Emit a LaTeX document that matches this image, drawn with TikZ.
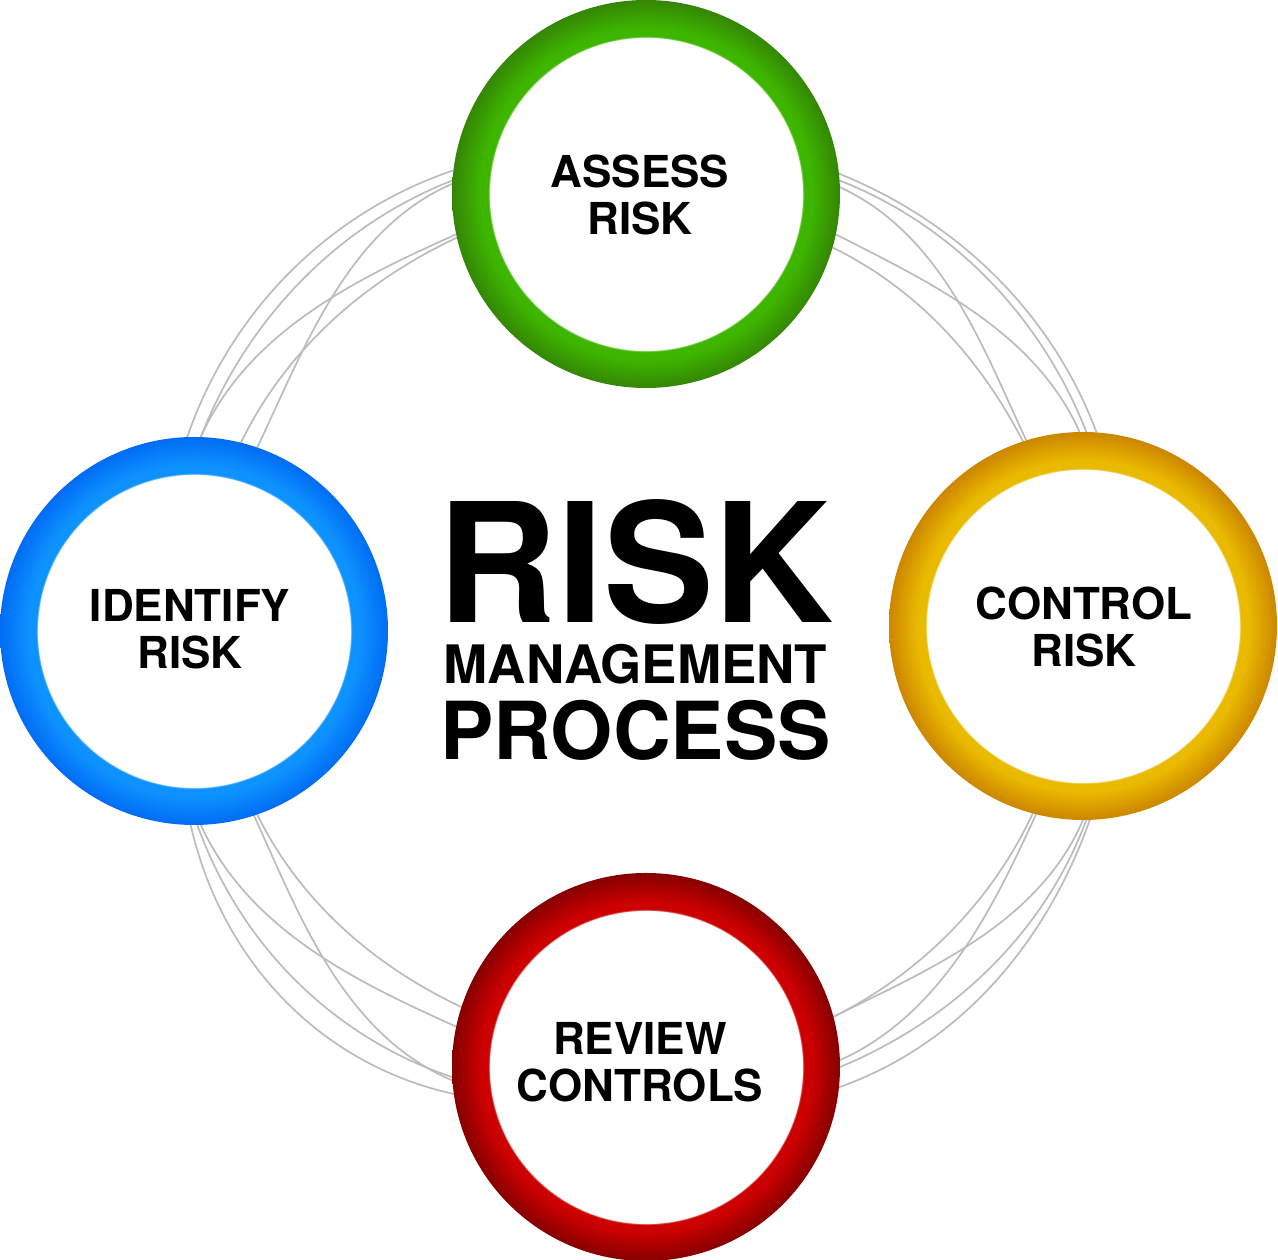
\documentclass[tikz,border=0pt]{standalone}
\usepackage{fontspec}
\setmainfont{TeX Gyre Heros}
\usetikzlibrary{calc}
\definecolor{gIn}{RGB}{62,182,0}
\definecolor{gOut}{RGB}{52,134,4}
\definecolor{yIn}{RGB}{234,186,0}
\definecolor{yOut}{RGB}{204,134,0}
\definecolor{bIn}{RGB}{14,146,255}
\definecolor{bOut}{RGB}{0,108,244}
\definecolor{rIn}{RGB}{204,0,0}
\definecolor{rOut}{RGB}{134,0,0}
\definecolor{wireGray}{RGB}{188,188,188}
\pgfdeclareradialshading{ringgreen}{\pgfpoint{0bp}{0bp}}{color(0bp)=(white); color(20.12bp)=(white); color(20.3bp)=(gIn); color(21.3bp)=(gIn); color(25bp)=(gOut); color(50bp)=(gOut)}
\pgfdeclareradialshading{ringyellow}{\pgfpoint{0bp}{0bp}}{color(0bp)=(white); color(20.12bp)=(white); color(20.3bp)=(yIn); color(21.3bp)=(yIn); color(25bp)=(yOut); color(50bp)=(yOut)}
\pgfdeclareradialshading{ringblue}{\pgfpoint{0bp}{0bp}}{color(0bp)=(white); color(20.12bp)=(white); color(20.3bp)=(bIn); color(21.3bp)=(bIn); color(25bp)=(bOut); color(50bp)=(bOut)}
\pgfdeclareradialshading{ringred}{\pgfpoint{0bp}{0bp}}{color(0bp)=(white); color(20.12bp)=(white); color(20.3bp)=(rIn); color(21.3bp)=(rIn); color(25bp)=(rOut); color(50bp)=(rOut)}
\pgfdeclarelayer{bg}
\pgfsetlayers{bg,main}
\tikzset{
  ring/.style={circle, minimum size=388pt, inner sep=0pt, outer sep=0pt, shade},
  lbl/.style={align=center, inner sep=0pt, font=\bfseries\fontsize{44}{47}\selectfont},
  bigtext/.style={inner sep=0pt, anchor=base, font=\bfseries},
  wire/.style={draw=wireGray, line width=1.7pt}
}
\begin{document}
\begin{tikzpicture}[x=1pt,y=1pt]
\useasboundingbox (0,0) rectangle (1278,1260);
\coordinate (C) at (640,630);
% rings
\node[ring, shading=ringgreen] (assess) at (646,1066) {};
\node[ring, shading=ringyellow] (control) at (1083,634) {};
\node[ring, shading=ringblue] (identify) at (194,629) {};
\node[ring, shading=ringred] (review) at (646,193) {};
% ring labels
\node[lbl] (assessL) at (640,1065) {ASSESS\\RISK};
\node[lbl] (identifyL) at (190,630.5) {IDENTIFY\\RISK};
\node[lbl] (controlL) at (1084,633.5) {CONTROL\\RISK};
\node[lbl] (reviewL) at (640,198) {REVIEW\\CONTROLS};
% central title (one block, three lines)
\node[bigtext] (title) at (635.5,637) {\vtop{\offinterlineskip\halign{\hfil#\hfil\cr
  \fontsize{166}{166}\selectfont RISK\vrule height 0pt depth 12pt width 0pt\cr
  \fontsize{53}{53}\selectfont MANAGEMENT\vrule height 49pt depth 12pt width 0pt\cr
  \fontsize{80}{80}\selectfont PROCESS\vrule height 64pt depth 0pt width 0pt\cr}}};
% connecting curves
\begin{pgfonlayer}{bg}
\fill[white] (0,0) rectangle (1278,1260);
\foreach \sa/\ea/\ta/\ra/\tb/\rb/\bu in {
  control.86/assess.6/23.27/498.6/66.27/497/1.01,
  control.89/assess.4/23.78/488.5/66.04/492.4/1.01,
  control.107/assess.2/26.09/432/65.65/485.2/1.0,
  control.91/assess.-12/24.23/482.5/63.43/440.5/1.0,
  control.108/assess.-16/26.93/426.2/63.0/429.8/1.0,
  assess.173/identify.92/112.0/494/157.25/491/1.02,
  assess.176/identify.88/112.4/484.7/156.4/480/1.01,
  assess.177/identify.71/112.4/482.5/154.2/424.4/1.0,
  assess.192/identify.88/115.0/438/156.3/479/1.0,
  assess.193/identify.76/115.3/433.5/154.8/439.7/1.0,
  identify.269/review.188/203.4/490.4/248.2/497.7/1.05,
  identify.271/review.183/203.8/483.1/247.3/484.5/1.02,
  identify.272/review.168/204.0/479.4/245.3/438/1.0,
  identify.288/review.184/205.5/429.8/247.4/487.3/1.0,
  identify.289/review.162/205.8/424.4/244.5/417.8/1.0,
  review.-6/control.272/293.3/497.6/337.0/486.6/1.02,
  review.0/control.271/294.4/479.8/336.97/485.7/1.01,
  review.15/control.270/296.5/432.5/336.8/482/1.0,
  review.2/control.256/294.6/475.2/335.25/437.2/1.0,
  review.15/control.255/296.5/432.5/335.0/433.5/1.0}{
  \pgfmathsetmacro\myang{atan(4/3*tan((\tb-\ta)/4))}
  \pgfmathsetmacro\myfac{\bu/cos(\myang)}
  \draw[wire] (\sa) .. controls ($(C)+({\ta+\myang}:{\ra*\myfac})$) and ($(C)+({\tb-\myang}:{\rb*\myfac})$) .. (\ea);
}
\end{pgfonlayer}
\end{tikzpicture}
\end{document}
